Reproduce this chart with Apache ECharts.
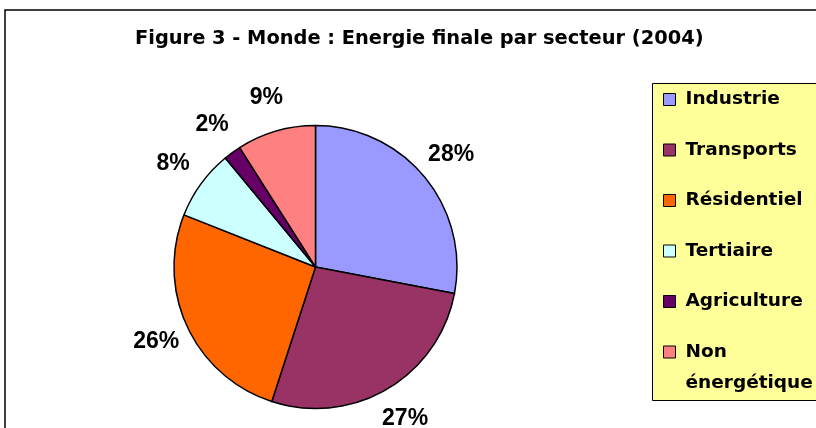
<!DOCTYPE html>
<html>
<head>
<meta charset="utf-8">
<script src="https://cdn.jsdelivr.net/npm/echarts@6/dist/echarts.min.js"></script>
<style>
  html, body { margin: 0; padding: 0; background: #fff; }
  #chart { width: 816px; height: 428px; }
</style>
</head>
<body>
<div id="chart"></div>
<script>
const titleText = 'Figure 3 - Monde : Energie finale par secteur (2004)'
const sectors = ['Industrie', 'Transports', 'Résidentiel', 'Tertiaire', 'Agriculture', 'Non énergétique']
const shares = [28, 27, 26, 8, 2, 9]
const sectorColors = ['#9999FF', '#993366', '#FF6600', '#CCFFFF', '#660066', '#FF8080']

const chart = echarts.init(document.getElementById('chart'))

const pieData = shares.map((v, i) => ({
  name: sectors[i],
  value: v,
  itemStyle: { color: sectorColors[i] }
}))

const legendText = {
  fontFamily: 'DejaVu Sans',
  fontWeight: 'bold',
  fontSize: 18.5,
  color: '#000',
  padding: [0, 0, 0, 5]
}

const option = {
  animation: false,
  title: {
    text: titleText,
    left: 135,
    top: 27,
    padding: 0,
    textStyle: {
      fontFamily: 'DejaVu Sans',
      fontWeight: 'bold',
      fontSize: 19.4,
      lineHeight: 24,
      color: '#000'
    }
  },
  graphic: [
    {
      type: 'rect',
      silent: true,
      z: -10,
      shape: { x: 5, y: 10, width: 900, height: 500 },
      style: { fill: 'none', stroke: '#000', lineWidth: 1.5 }
    },
    {
      type: 'rect',
      silent: true,
      z: 0,
      shape: { x: 652.5, y: 83.5, width: 200, height: 317 },
      style: { fill: '#FFFF99', stroke: '#000', lineWidth: 1 }
    }
  ],
  legend: [
    {
      // first five entries, one line each
      data: sectors.slice(0, 5),
      orient: 'vertical',
      left: 663,
      top: 89.5,
      padding: 0,
      itemWidth: 12,
      itemHeight: 12,
      itemGap: 30.5,
      icon: 'rect',
      selectedMode: false,
      itemStyle: { borderColor: '#000', borderWidth: 1 },
      textStyle: Object.assign({ lineHeight: 20 }, legendText)
    },
    {
      // last entry wraps on two lines, marker next to the first line
      // (empty first line keeps the block centred on "Non")
      data: sectors.slice(5),
      orient: 'vertical',
      left: 663,
      top: 305.5,
      padding: 0,
      itemWidth: 12,
      itemHeight: 12,
      icon: 'rect',
      selectedMode: false,
      itemStyle: { borderColor: '#000', borderWidth: 1 },
      formatter: name => '\n' + name.replace(' ', '\n'),
      textStyle: Object.assign({ lineHeight: 31 }, legendText)
    }
  ],
  series: [
    {
      type: 'pie',
      center: [315.5, 267],
      radius: 141.5,
      startAngle: 90,
      clockwise: true,
      silent: true,
      emphasis: { disabled: true },
      label: { show: false },
      labelLine: { show: false },
      itemStyle: { borderColor: '#000', borderWidth: 1.5 },
      data: pieData
    },
    {
      // invisible ring that carries the percentage labels outside the pie
      type: 'pie',
      center: [315.5, 267],
      radius: [155, 191],
      startAngle: 90,
      clockwise: true,
      silent: true,
      emphasis: { disabled: true },
      itemStyle: { color: 'rgba(0,0,0,0)', borderWidth: 0 },
      labelLine: { show: false },
      label: {
        show: true,
        position: 'inside',
        formatter: '{c}%',
        fontFamily: 'Liberation Sans',
        fontWeight: 'bold',
        fontSize: 23,
        color: '#000',
        textBorderWidth: 0
      },
      data: shares.map((v, i) => ({ name: sectors[i], value: v }))
    }
  ]
}

chart.setOption(option)
</script>
</body>
</html>
